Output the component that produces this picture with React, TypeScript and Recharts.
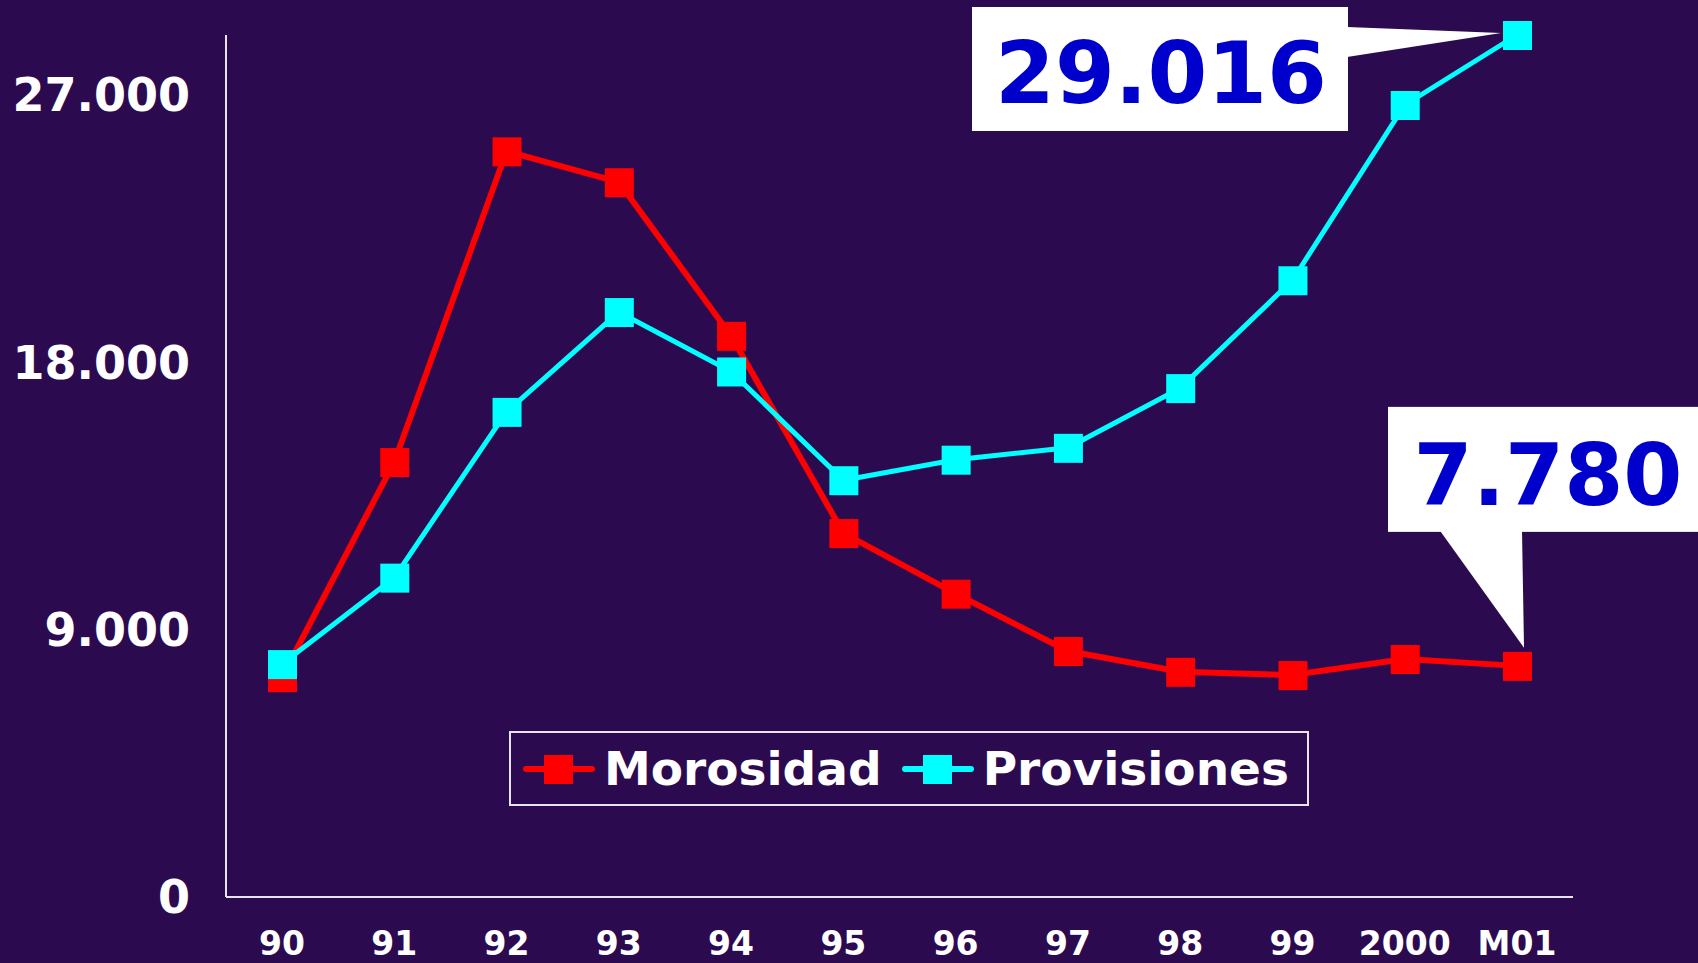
import { LineChart, Line, XAxis, YAxis, ReferenceDot } from "recharts";

const years = ["90", "91", "92", "93", "94", "95", "96", "97", "98", "99", "2000", "M01"];
const morosidad = [7400, 14640, 25100, 24060, 18890, 12250, 10210, 8280, 7580, 7470, 8010, 7780];
const provisiones = [7840, 10750, 16330, 19690, 17690, 14030, 14720, 15120, 17130, 20760, 26660, 29016];
const yTicks = [0, 9000, 18000, 27000];
const series = [
  { name: "Morosidad", color: "#FF0000" },
  { name: "Provisiones", color: "#00FFFF" },
];

const data = years.map((year, i) => ({
  year,
  Morosidad: morosidad[i],
  Provisiones: provisiones[i],
}));

const BG = "#2C0A50";
const FONT = "'DejaVu Sans', Verdana, sans-serif";

const fmt = (v: number) => v.toLocaleString("de-DE");

// square marker
const squareDot = (color: string) => (props: any) => {
  const { cx, cy, key } = props;
  if (cx == null || cy == null) return <g key={key} />;
  return <rect key={key} x={cx - 14} y={cy - 14} width={29} height={29} fill={color} />;
};

// callout boxes, positioned relative to the point they point at
const TopCallout = (props: any) => {
  const { cx, cy } = props;
  return (
    <g>
      <polygon points={`${cx - 170},${cy - 8} ${cx - 170},${cy + 22} ${cx - 16},${cy - 2}`} fill="#fff" />
      <rect x={cx - 545} y={cy - 28} width={376} height={124} fill="#fff" />
      <text x={cx - 356} y={cy + 68} textAnchor="middle" fontFamily={FONT} fontWeight="bold" fontSize={86} fill="#0000CC">
        {fmt(29016)}
      </text>
    </g>
  );
};

const BottomCallout = (props: any) => {
  const { cx, cy } = props;
  return (
    <g>
      <polygon points={`${cx - 77},${cy - 135} ${cx + 5},${cy - 135} ${cx + 7},${cy - 18}`} fill="#fff" />
      <rect x={cx - 129} y={cy - 259} width={320} height={125} fill="#fff" />
      <text x={cx + 31} y={cy - 161} textAnchor="middle" fontFamily={FONT} fontWeight="bold" fontSize={85} fill="#0000CC">
        {fmt(7780)}
      </text>
    </g>
  );
};

const LegendBox = () => (
  <div
    style={{
      position: "absolute",
      left: 509,
      top: 731,
      width: 796,
      height: 71,
      border: "2px solid #E8E4EE",
      display: "flex",
      alignItems: "center",
      fontFamily: FONT,
      fontWeight: "bold",
      fontSize: 47,
      color: "#fff",
    }}
  >
    {series.map((it, i) => (
      <div key={it.name} style={{ display: "flex", alignItems: "center", marginLeft: i === 0 ? 12 : 20 }}>
        <svg width={72} height={32} style={{ marginRight: 9 }}>
          <line x1={3} y1={16} x2={69} y2={16} stroke={it.color} strokeWidth={6} strokeLinecap="round" />
          <rect x={21} y={2} width={29} height={29} fill={it.color} />
        </svg>
        <span style={{ lineHeight: 1 }}>{it.name}</span>
      </div>
    ))}
  </div>
);

export default function App() {
  return (
    <div style={{ position: "absolute", left: 0, top: 0, width: 1698, height: 963, background: BG, overflow: "hidden" }}>
      <LineChart
        width={1698}
        height={963}
        data={data}
        margin={{ top: 35, right: 125, bottom: 0, left: 0 }}
        style={{ background: BG }}
      >
        <XAxis
          dataKey="year"
          height={66}
          padding={{ left: 56, right: 56 }}
          stroke="#E8E4EE"
          strokeWidth={2}
          tickLine={false}
          tickSize={0}
          tickMargin={35}
          tick={{ fill: "#fff", fontFamily: FONT, fontWeight: "bold", fontSize: 33 }}
        />
        <YAxis
          width={226}
          domain={[0, 29016]}
          ticks={yTicks}
          tickFormatter={fmt}
          stroke="#E8E4EE"
          strokeWidth={2}
          tickLine={false}
          tickSize={0}
          tickMargin={36}
          tick={{ fill: "#fff", fontFamily: FONT, fontWeight: "bold", fontSize: 46 }}
        />
        <Line
          dataKey="Morosidad"
          stroke="#FF0000"
          strokeWidth={6}
          dot={squareDot("#FF0000")}
          activeDot={false}
          isAnimationActive={false}
        />
        <Line
          dataKey="Provisiones"
          stroke="#00FFFF"
          strokeWidth={5}
          dot={squareDot("#00FFFF")}
          activeDot={false}
          isAnimationActive={false}
        />
        <ReferenceDot x="M01" y={29016} r={0} shape={TopCallout} ifOverflow="visible" />
        <ReferenceDot x="M01" y={7780} r={0} shape={BottomCallout} ifOverflow="visible" />
      </LineChart>
      <LegendBox />
    </div>
  );
}
